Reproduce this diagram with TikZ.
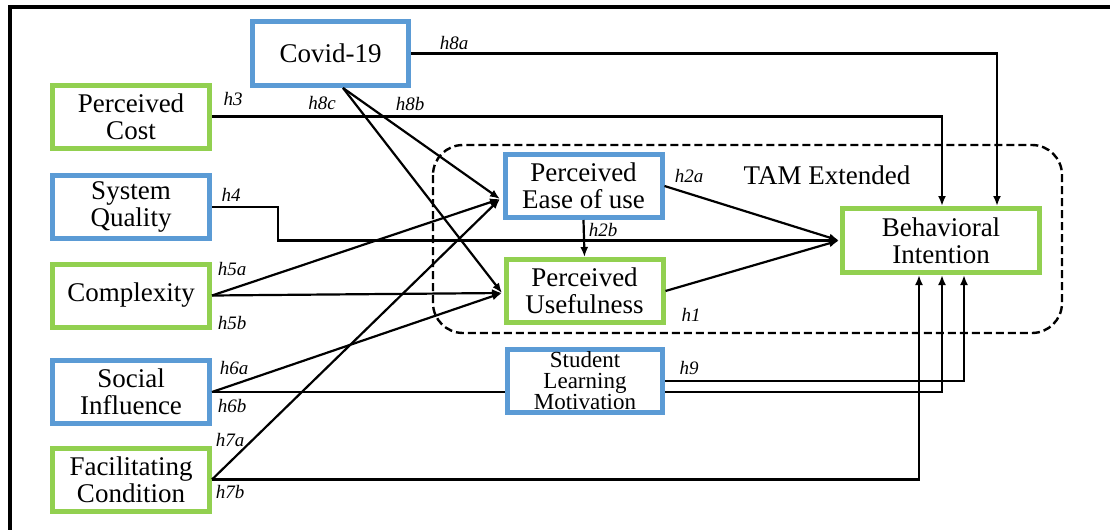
\documentclass[tikz,border=0pt]{standalone}
\usepackage{fontspec}
\setmainfont{Liberation Serif}
\usetikzlibrary{arrows.meta}
\definecolor{bbox}{HTML}{5B9BD5}
\definecolor{gbox}{HTML}{92D050}
\begin{document}
\begin{tikzpicture}[x=0.5pt,y=-0.5pt,
  box/.style={draw, line width=2.5pt, align=center, inner sep=0pt, fill=white,
    font=\fontsize{13.5}{13.5}\selectfont, minimum width=78.5pt, minimum height=31.5pt},
  bluebox/.style={box, draw=bbox},
  greenbox/.style={box, draw=gbox},
  conn/.style={line width=1.1pt},
  arr/.style={conn, -{Latex[length=5pt,width=4pt]}},
  hl/.style={font=\fontsize{9.5}{9.5}\selectfont\itshape, inner sep=0pt},
  frame/.style={line width=2.3pt},
  tam/.style={dashed, dash pattern=on 4pt off 2pt, line width=1.2pt, rounded corners=15pt}]
\useasboundingbox (0,0) rectangle (1110,530);
% frame
\draw[frame] (10,530) -- (10,7) -- (1110,7);
% TAM extended region
\draw[tam] (433,145) rectangle (1062,333);
\node[font=\fontsize{13.5}{13.5}\selectfont] (tamlbl) at (827,175) {TAM Extended};
% nodes
\node[bluebox, minimum width=78pt, minimum height=32pt] (cov) at (330.5,53.5) {Covid-19};
\node[greenbox] (pc) at (131,116.5) {Perceived\\Cost};
\node[bluebox] (sq) at (131,207) {System\\Quality};
\node[greenbox] (cx) at (131,295.5) {Complexity};
\node[bluebox] (si) at (131,392) {Social\\Influence};
\node[greenbox] (fc) at (131,479.5) {Facilitating\\Condition};
\node[bluebox] (peou) at (583.5,186) {Perceived\\Ease of use};
\node[greenbox] (pu) at (584.5,291) {Perceived\\Usefulness};
\node[bluebox, font=\fontsize{11.5}{10.5}\selectfont, minimum width=77.5pt] (slm) at (585,381) {Student\\Learning\\Motivation};
\node[greenbox, minimum width=98.5pt, minimum height=32pt] (bi) at (941,240.5) {Behavioral\\Intention};
% connector end points
\coordinate (covs) at (343,88);
\coordinate (peouin) at (500,199);
\coordinate (puin) at (502,293);
\coordinate (biw) at (839,240.5);
\coordinate (bit1) at (942,206);
\coordinate (bit2) at (997,206);
\coordinate (bib1) at (919,275);
\coordinate (bib2) at (942,275);
\coordinate (bib3) at (964,275);
% connectors
\draw[arr] (cov.east) -| (bit2);
\draw[arr] (pc.east) -| (bit1);
\draw[arr] (sq.east) -- ++(66,0) |- (biw);
\draw[arr] (covs) -- (peouin);
\draw[arr] (covs) -- (puin);
\draw[arr] (cx.east) -- (peouin);
\draw[arr] (cx.east) -- (puin);
\draw[arr] (si.east) -- (puin);
\draw[conn] (si.east) -- (slm.west |- si.east);
\draw[arr] (slm.east |- si.east) -| (bib2);
\draw[arr] (fc.east) -- (peouin);
\draw[arr] (fc.east) -| (bib1);
\draw[arr] (slm.east) -| (bib3);
\draw[arr] (peou.east) -- (biw);
\draw[arr] (pu.east) -- (biw);
\draw[arr] (peou.south) -- (pu.north);
% labels
\node[hl] (l8a) at (454,43) {h8a};
\node[hl] (l3) at (233,99) {h3};
\node[hl] (l8c) at (322,103) {h8c};
\node[hl] (l8b) at (410,104) {h8b};
\node[hl] (l4) at (231,195) {h4};
\node[hl] (l5a) at (232,269) {h5a};
\node[hl] (l5b) at (232,323) {h5b};
\node[hl] (l6a) at (234,368) {h6a};
\node[hl] (l6b) at (232,406) {h6b};
\node[hl] (l7a) at (230,440) {h7a};
\node[hl] (l7b) at (230,492) {h7b};
\node[hl] (l2a) at (689,176) {h2a};
\node[hl] (l2b) at (603,230) {h2b};
\node[hl] (l1) at (691,315) {h1};
\node[hl] (l9) at (689,368) {h9};
\end{tikzpicture}
\end{document}
